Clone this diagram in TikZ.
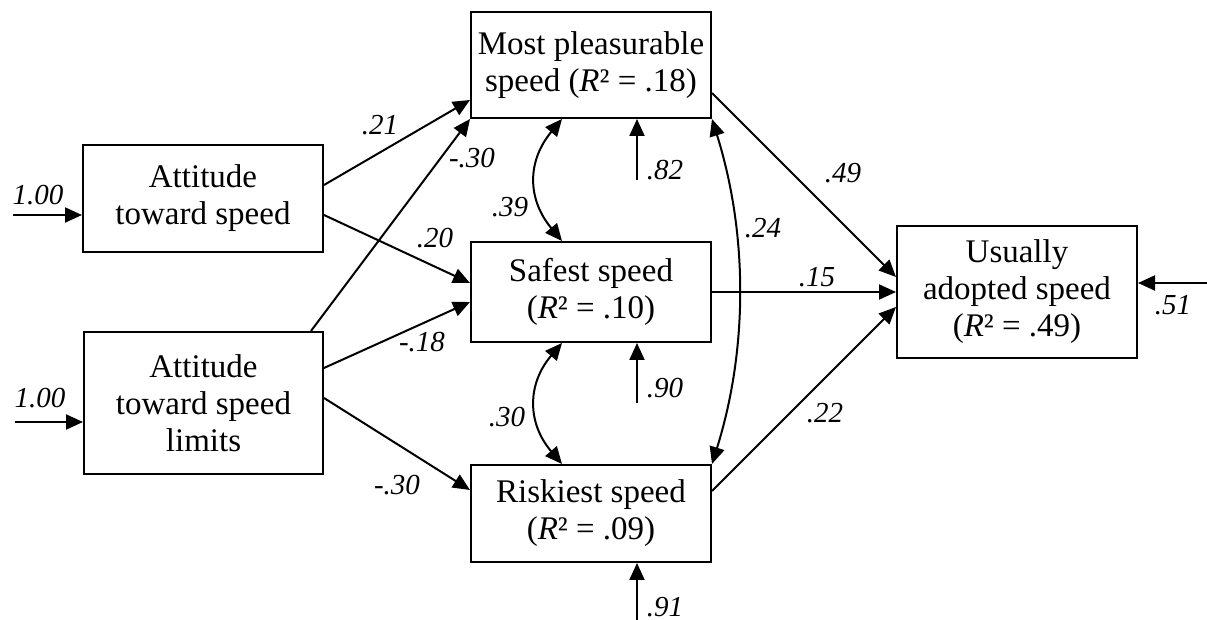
\documentclass[tikz,border=0pt]{standalone}
\usepackage{fontspec}
\setmainfont{Liberation Serif}
\usetikzlibrary{arrows.meta,calc}
\begin{document}
\begin{tikzpicture}[x=0.5pt,y=-0.5pt,
 box/.style={draw,line width=1pt,align=center,inner sep=0pt,font=\fontsize{16.5}{18.5}\selectfont},
 coef/.style={font=\fontsize{14.5}{16}\selectfont\itshape,inner sep=0pt},
 pth/.style={line width=1pt,-{Triangle[length=8.5pt,width=7.5pt]}},
 cov/.style={line width=1pt,{Triangle[length=8.5pt,width=7.5pt]}-{Triangle[length=8.5pt,width=7.5pt]}}]
\useasboundingbox (0,0) rectangle (1207,620);
% boxes
\node[box,minimum width=120pt,minimum height=53.5pt] (A) at (203,198.5) {Attitude\\toward speed};
\node[box,minimum width=119.5pt,minimum height=71pt] (B) at (203.5,403) {Attitude\\toward speed\\limits};
\node[box,minimum width=120pt,minimum height=53pt] (M) at (591,65) {Most pleasurable\\speed (\textit{R}² = .18)};
\node[box,minimum width=120pt,minimum height=50pt] (S) at (591,292) {Safest speed\\(\textit{R}² = .10)};
\node[box,minimum width=120pt,minimum height=48.5pt] (R) at (591,513.5) {Riskiest speed\\(\textit{R}² = .09)};
\node[box,minimum width=120pt,minimum height=66pt] (U) at (1017,292) {Usually\\adopted speed\\(\textit{R}² = .49)};
% error sources
\coordinate (eA) at (13,215);
\coordinate (eB) at (15,422);
\coordinate (eM) at (637,180);
\coordinate (eS) at (637,403);
\coordinate (eR) at (637,620);
\coordinate (eU) at (1207,283);
% error arrows
\draw[pth] (eA) -- ($(A.west)+(0,16.5)$);
\draw[pth] (eB) -- ($(B.west)+(0,19)$);
\draw[pth] (eM) -- ($(M.south)+(46,0)$);
\draw[pth] (eS) -- ($(S.south)+(46,0)$);
\draw[pth] (eR) -- ($(R.south)+(46,0)$);
\draw[pth] (eU) -- ($(U.east)+(0,-9)$);
% paths
\draw[pth] ($(A.east)+(0,-13.5)$) -- ($(M.west)+(0,35)$);
\draw[pth] ($(B.north east)+(-13,0)$) -- (M.south west);
\draw[pth] ($(A.east)+(0,16.5)$) -- ($(S.west)+(0,-9)$);
\draw[pth] ($(B.east)+(0,-35)$) -- ($(S.west)+(0,10)$);
\draw[pth] ($(B.east)+(0,-5)$) -- ($(R.west)+(0,-23.5)$);
\draw[pth] ($(M.east)+(0,28)$) -- ($(U.west)+(0,-15)$);
\draw[pth] (S.east) -- (U.west);
\draw[pth] ($(R.east)+(0,-22.5)$) -- ($(U.west)+(0,15)$);
% covariances
\draw[cov] ($(M.south)+(-29,0)$) .. controls ($(M.south)+(-64,42)$) and ($(S.north)+(-64,-42)$) .. ($(S.north)+(-29,0)$);
\draw[cov] ($(S.south)+(-29,0)$) .. controls ($(S.south)+(-64,41)$) and ($(R.north)+(-64,-41)$) .. ($(R.north)+(-29,0)$);
\draw[cov] (M.south east) .. controls ($(M.south east)+(36,115)$) and ($(R.north east)+(36,-115)$) .. (R.north east);
% coefficients
\node[coef] (c1) at (38,195) {1.00};
\node[coef] (c2) at (40,398) {1.00};
\node[coef] (c3) at (380,125) {.21};
\node[coef] (c4) at (472,158) {-.30};
\node[coef] (c5) at (435,238) {.20};
\node[coef] (c6) at (422,342) {-.18};
\node[coef] (c7) at (397,485) {-.30};
\node[coef] (c8) at (510,207) {.39};
\node[coef] (c9) at (507,417) {.30};
\node[coef] (c10) at (665,170) {.82};
\node[coef] (c11) at (665,388) {.90};
\node[coef] (c12) at (665,607) {.91};
\node[coef] (c13) at (763,228) {.24};
\node[coef] (c14) at (843,173) {.49};
\node[coef] (c15) at (817,277) {.15};
\node[coef] (c16) at (825,413) {.22};
\node[coef] (c17) at (1173,305) {.51};
\end{tikzpicture}
\end{document}
